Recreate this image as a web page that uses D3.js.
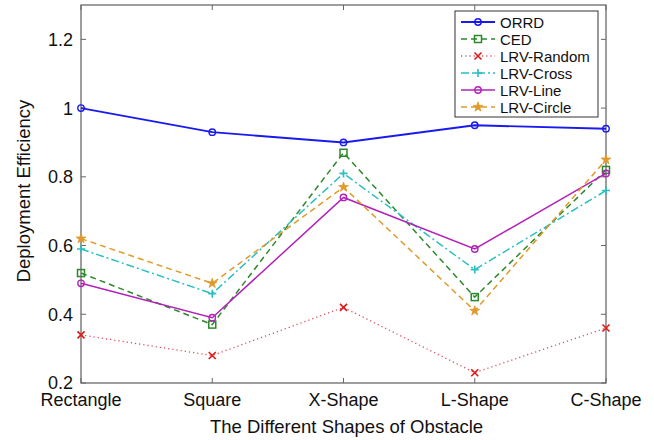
<!DOCTYPE html>
<html>
<head>
<meta charset="utf-8">
<script src="https://cdn.jsdelivr.net/npm/d3@7"></script>
<style>
body{margin:0;background:#fff;}
text{font-family:"Liberation Sans",Arial,sans-serif;fill:#111;}
</style>
</head>
<body>
<svg id="chart" width="654" height="440"></svg>
<script>
// data
const categories=["Rectangle","Square","X-Shape","L-Shape","C-Shape"];
const seriesNames=["ORRD","CED","LRV-Random","LRV-Cross","LRV-Line","LRV-Circle"];
const orrd=[1.0,0.93,0.90,0.95,0.94];
const ced=[0.52,0.37,0.87,0.45,0.82];
const lrvRandom=[0.34,0.28,0.42,0.23,0.36];
const lrvCross=[0.59,0.46,0.81,0.53,0.76];
const lrvLine=[0.49,0.39,0.74,0.59,0.81];
const lrvCircle=[0.62,0.49,0.77,0.41,0.85];
const yTicks=[0.2,0.4,0.6,0.8,1,1.2];

const series=[
  {name:seriesNames[0],values:orrd,color:"#1a1aee",dash:null,marker:"circle",w:1.9},
  {name:seriesNames[1],values:ced,color:"#2a8a2a",dash:"6,4",marker:"square",w:1.5},
  {name:seriesNames[2],values:lrvRandom,color:"#d94b5a",dash:"1.2,3",marker:"cross",w:1.3},
  {name:seriesNames[3],values:lrvCross,color:"#2bbfbf",dash:"8,3,2,3",marker:"plus",w:1.5},
  {name:seriesNames[4],values:lrvLine,color:"#b222b8",dash:null,marker:"circle",w:1.5},
  {name:seriesNames[5],values:lrvCircle,color:"#e09a2a",dash:"6,4",marker:"star",w:1.5}
];
const markerColor={"LRV-Random":"#e01818"};

const svg=d3.select("#chart");
const pL=81, pR=606, pT=5, pB=383;

const x=d3.scalePoint().domain(categories).range([pL,pR]);
const y=d3.scaleLinear().domain([0.2,1.3]).range([pB,pT]);

// frame
svg.append("rect")
   .attr("x",pL).attr("y",pT)
   .attr("width",pR-pL).attr("height",pB-pT)
   .attr("fill","none").attr("stroke","#6a6a6a").attr("stroke-width",1.3);

// ticks, inward on all four sides
yTicks.forEach(function(t){
   svg.append("line").attr("x1",pL).attr("x2",pL+5)
      .attr("y1",y(t)).attr("y2",y(t)).attr("stroke","#666");
   svg.append("line").attr("x1",pR-5).attr("x2",pR)
      .attr("y1",y(t)).attr("y2",y(t)).attr("stroke","#666");
   svg.append("text").text(t)
      .attr("x",pL-8).attr("y",y(t)).attr("dy","0.36em")
      .attr("text-anchor","end").attr("font-size","18px");
});
categories.forEach(function(c){
   svg.append("line").attr("x1",x(c)).attr("x2",x(c))
      .attr("y1",pB).attr("y2",pB-5).attr("stroke","#666");
   svg.append("line").attr("x1",x(c)).attr("x2",x(c))
      .attr("y1",pT).attr("y2",pT+5).attr("stroke","#666");
   svg.append("text").text(c)
      .attr("x",x(c)).attr("y",406)
      .attr("text-anchor","middle").attr("font-size","18px");
});

svg.append("text").text("The Different Shapes of Obstacle")
   .attr("x",(pL+pR)/2+3).attr("y",433)
   .attr("text-anchor","middle").attr("font-size","18.5px");
svg.append("text").text("Deployment Efficiency")
   .attr("transform","translate(30,191) rotate(-90)")
   .attr("text-anchor","middle").attr("font-size","18.5px");

function drawMarker(g,type,cx,cy,color){
   if(type=="circle"){
      g.append("circle").attr("cx",cx).attr("cy",cy).attr("r",3.2)
       .attr("fill","none").attr("stroke",color).attr("stroke-width",1.4);
   } else if(type=="square"){
      g.append("rect").attr("x",cx-3.5).attr("y",cy-3.5).attr("width",7).attr("height",7)
       .attr("fill","none").attr("stroke",color).attr("stroke-width",1.5);
   } else if(type=="cross"){
      g.append("path").attr("d","M"+(cx-3.5)+","+(cy-3.5)+"L"+(cx+3.5)+","+(cy+3.5)+"M"+(cx-3.5)+","+(cy+3.5)+"L"+(cx+3.5)+","+(cy-3.5))
       .attr("stroke",color).attr("stroke-width",1.6).attr("fill","none");
   } else if(type=="plus"){
      g.append("path").attr("d","M"+(cx-4)+","+cy+"L"+(cx+4)+","+cy+"M"+cx+","+(cy-4)+"L"+cx+","+(cy+4))
       .attr("stroke",color).attr("stroke-width",1.6).attr("fill","none");
   } else if(type=="star"){
      g.append("path").attr("d",d3.symbol(d3.symbolStar,30)())
       .attr("transform","translate("+cx+","+cy+")")
       .attr("fill",color).attr("stroke",color).attr("stroke-width",0.8);
   }
}

const line=d3.line().x(function(d,i){return x(categories[i]);}).y(function(d){return y(d);});

series.forEach(function(s){
   const g=svg.append("g");
   g.append("path").datum(s.values)
    .attr("d",line)
    .attr("fill","none")
    .attr("stroke",s.color)
    .attr("stroke-width",s.w)
    .attr("stroke-dasharray",s.dash);
   const mc=markerColor[s.name]||s.color;
   s.values.forEach(function(v,i){ drawMarker(g,s.marker,x(categories[i]),y(v),mc); });
});

// legend
const lg=svg.append("g");
lg.append("rect").attr("x",455).attr("y",11).attr("width",143).attr("height",106)
  .attr("fill","#fff").attr("stroke","#333").attr("stroke-width",1);
series.forEach(function(s,i){
   const ly=22+17*i;
   lg.append("line").attr("x1",461).attr("x2",495).attr("y1",ly).attr("y2",ly)
     .attr("stroke",s.color).attr("stroke-width",s.w).attr("stroke-dasharray",s.dash);
   drawMarker(lg,s.marker,478,ly,markerColor[s.name]||s.color);
   lg.append("text").text(s.name).attr("x",500).attr("y",ly+5.5).attr("font-size","15px");
});
</script>
</body>
</html>
